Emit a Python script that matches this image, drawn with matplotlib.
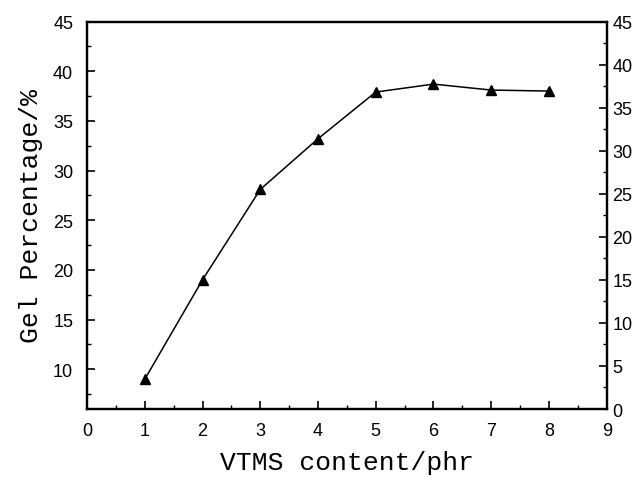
#!/usr/bin/env python3
"""Gel percentage vs VTMS content, dual y-axis frame."""

import matplotlib
matplotlib.use('Agg')
import matplotlib.pyplot as plt
from matplotlib.ticker import MultipleLocator

vtms_phr = [1, 2, 3, 4, 5, 6, 7, 8]
gel_pct = [9.0, 19.0, 28.1, 33.2, 37.9, 38.7, 38.1, 38.0]

left_ticks = [10, 15, 20, 25, 30, 35, 40, 45]
right_ticks = [0, 5, 10, 15, 20, 25, 30, 35, 40, 45]
x_ticks = list(range(0, 10))

TICK_FONT = 'Liberation Sans'
LABEL_FONT = 'Liberation Mono'


def main():
    fig = plt.figure(figsize=(6.4, 4.85), dpi=100)
    ax = fig.add_axes([0.136, 0.1546, 0.812, 0.799])

    ax.plot(vtms_phr, gel_pct, color='black', linewidth=1.1,
            marker='^', markersize=7, markerfacecolor='black',
            markeredgecolor='black')

    ax.set_xlim(0, 9)
    ax.set_ylim(6, 45)
    ax.set_xticks(x_ticks)
    ax.set_yticks(left_ticks)
    ax.xaxis.set_minor_locator(MultipleLocator(0.5))
    ax.yaxis.set_minor_locator(MultipleLocator(2.5))

    ax.tick_params(which='major', direction='in', length=6, width=1.2,
                   top=False, right=False)
    ax.tick_params(which='minor', direction='in', length=3, width=1.0,
                   top=False, right=False)
    ax.tick_params(axis='y', which='major', pad=10)
    ax.tick_params(axis='x', which='major', pad=9)

    for lbl in ax.get_xticklabels() + ax.get_yticklabels():
        lbl.set_fontfamily(TICK_FONT)
        lbl.set_fontsize(13)

    for sp in ax.spines.values():
        sp.set_linewidth(1.6)

    ax2 = ax.twinx()
    ax2.set_ylim(0, 45)
    ax2.set_yticks(right_ticks)
    ax2.yaxis.set_minor_locator(MultipleLocator(2.5))
    ax2.tick_params(which='major', direction='in', length=6, width=1.2, pad=4)
    ax2.tick_params(which='minor', direction='in', length=3, width=1.0)
    for lbl in ax2.get_yticklabels():
        lbl.set_fontfamily(TICK_FONT)
        lbl.set_fontsize(13)
    for sp in ax2.spines.values():
        sp.set_linewidth(1.6)

    ax.set_xlabel('VTMS content/phr', fontfamily=LABEL_FONT, fontsize=19,
                  labelpad=8)
    ax.set_ylabel('Gel Percentage/%', fontfamily=LABEL_FONT, fontsize=19,
                  labelpad=7)

    fig.savefig('out.png', dpi=100, facecolor='white')
    plt.close(fig)


if __name__ == '__main__':
    main()
